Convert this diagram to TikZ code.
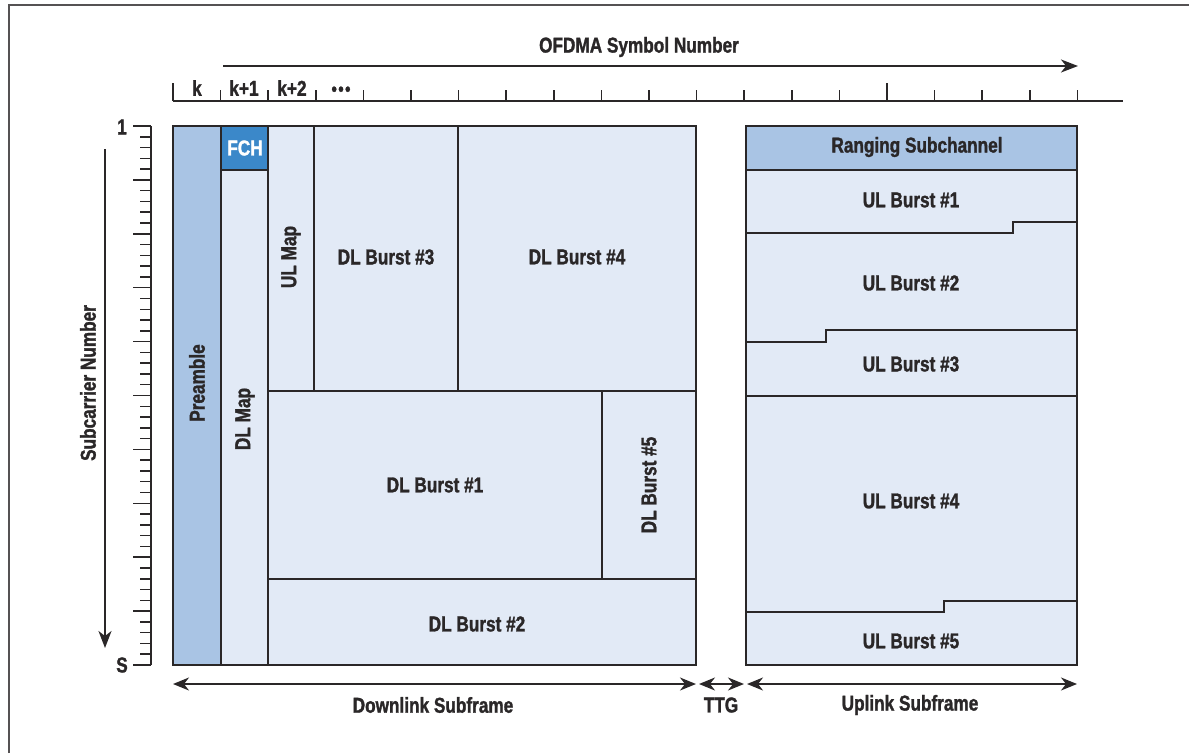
\documentclass[tikz,border=0pt]{standalone}
\usepackage{fontspec}
\setmainfont{Liberation Sans}[FakeStretch=0.8, BoldFeatures={FakeBold=1.4}]
\usepackage{tikz}
\usetikzlibrary{arrows.meta, positioning}

\definecolor{panelfill}{HTML}{E2EAF6}
\definecolor{preamblefill}{HTML}{A9C4E4}
\definecolor{fchfill}{HTML}{3B88C9}
\definecolor{inkgray}{HTML}{2A2728}

\tikzset{
    lbl/.style={font=\fontsize{21.5}{23}\selectfont\bfseries, text=inkgray, inner sep=0pt},
    frame/.style={draw=inkgray, line width=2.2pt},
    divider/.style={draw=inkgray, line width=1.8pt},
    ruler/.style={draw=inkgray, line width=1.5pt},
    onearrow/.style={-{Stealth[length=17pt, width=13pt, inset=5pt]}, draw=inkgray, line width=1.7pt},
    twoarrow/.style={{Stealth[length=16pt, width=13pt, inset=5pt]}-{Stealth[length=16pt, width=13pt, inset=5pt]}, draw=inkgray, line width=1.7pt}
}

\begin{document}
\begin{tikzpicture}[x=1pt, y=-1pt]

        \useasboundingbox (0,0) rectangle (1189,753);

        % Outer Frame
        \draw[line width=1.5pt, inkgray!80] (9,753) -- (9,5) -- (1189,5);

        % Symbol Axis
        \coordinate (symfrom) at (223,66);
        \coordinate (symto) at (1078,66);
        \draw[onearrow] (symfrom) -- (symto);
        \node[lbl] (symtitle) at (639,47) {OFDMA Symbol Number};

        % Symbol Ruler
        \draw[ruler] (173,101) -- (1123,101);
        \foreach \i in {0,...,19} {
            \ifnum\i=0 \def\len{18}\else\ifnum\i=15 \def\len{18}\else\def\len{11}\fi\fi
            \draw[ruler] (173+\i*47.6,101) -- ++(0,-\len);
        }
        \node[lbl] (symk) at (197,88) {k};
        \node[lbl] (symk1) at (244,88) {k+1};
        \node[lbl] (symk2) at (292,88) {k+2};
        \node[lbl, font=\fontsize{19}{20}\selectfont\bfseries] (symdots) at (341,91) {\textbullet\kern1.5pt\textbullet\kern1.5pt\textbullet};

        % Subcarrier Ruler
        \draw[ruler] (151,126) -- (151,665);
        \foreach \i in {0,...,50} {
            \pgfmathtruncatemacro{\major}{mod(\i,5)==0}
            \ifnum\major=1 \def\len{18}\else\def\len{11}\fi
            \draw[ruler] (151,126+\i*10.78) -- ++(-\len,0);
        }
        \node[lbl] (subfirst) at (122,127) {1};
        \node[lbl] (sublast) at (122,665) {S};

        % Subcarrier Axis
        \coordinate (subfrom) at (105,149);
        \coordinate (subto) at (105,648);
        \draw[onearrow] (subfrom) -- (subto);
        \node[lbl, rotate=90] (subtitle) at (88,383) {Subcarrier Number};

        % Downlink Subframe
        \fill[panelfill] (173,126) rectangle (696,665);
        \fill[preamblefill] (173,126) rectangle (221,665);
        \fill[fchfill] (221,126) rectangle (268,170);
        \draw[divider] (221,126) -- (221,665);
        \draw[divider] (268,126) -- (268,665);
        \draw[divider] (221,170) -- (268,170);
        \draw[divider] (314,126) -- (314,391);
        \draw[divider] (458,126) -- (458,391);
        \draw[divider] (268,391) -- (696,391);
        \draw[divider] (602,391) -- (602,579);
        \draw[divider] (268,579) -- (696,579);
        \draw[frame] (173,126) rectangle (696,665);

        \node[lbl, rotate=90] (preamble) at (197,383) {Preamble};
        \node[lbl, text=white] (fch) at (245,148) {FCH};
        \node[lbl, rotate=90] (dlmap) at (245,419) {DL Map};
        \node[lbl, rotate=90] (ulmap) at (291,257) {UL Map};
        \node[lbl] (dlthree) at (386,257) {DL Burst \#3};
        \node[lbl] (dlfour) at (577,257) {DL Burst \#4};
        \node[lbl] (dlone) at (435,485) {DL Burst \#1};
        \node[lbl, rotate=90] (dlfive) at (649,485) {DL Burst \#5};
        \node[lbl] (dltwo) at (477,624) {DL Burst \#2};

        % Uplink Subframe
        \fill[panelfill] (746,126) rectangle (1077,665);
        \fill[preamblefill] (746,126) rectangle (1077,170);
        \draw[divider] (746,170) -- (1077,170);
        \draw[divider] (746,233) -- (1013,233) -- (1013,222) -- (1077,222);
        \draw[divider] (746,342) -- (826,342) -- (826,330) -- (1077,330);
        \draw[divider] (746,396) -- (1077,396);
        \draw[divider] (746,612) -- (944,612) -- (944,601) -- (1077,601);
        \draw[frame] (746,126) rectangle (1077,665);

        \node[lbl] (ranging) at (917,147) {Ranging Subchannel};
        \node[lbl] (ulone) at (911,200) {UL Burst \#1};
        \node[lbl] (ultwo) at (911,283) {UL Burst \#2};
        \node[lbl] (ulthree) at (911,364) {UL Burst \#3};
        \node[lbl] (ulfour) at (911,501) {UL Burst \#4};
        \node[lbl] (ulfive) at (911,641) {UL Burst \#5};

        % Bottom Arrows and Labels
        \coordinate (dlfrom) at (173,684);
        \coordinate (dlto) at (696,684);
        \coordinate (ttgfrom) at (699,684);
        \coordinate (ttgto) at (744,684);
        \coordinate (ulfrom) at (747,684);
        \coordinate (ulto) at (1077,684);
        \draw[twoarrow] (dlfrom) -- (dlto);
        \draw[twoarrow] (ttgfrom) -- (ttgto);
        \draw[twoarrow] (ulfrom) -- (ulto);
        \node[lbl] (dllabel) at (433,705) {Downlink Subframe};
        \node[lbl] (ttglabel) at (721,705) {TTG};
        \node[lbl] (ullabel) at (910,705) {Uplink Subframe};

\end{tikzpicture}
\end{document}
